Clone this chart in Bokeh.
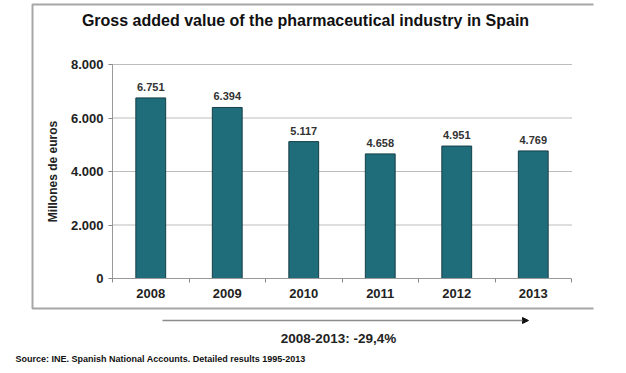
from bokeh.plotting import figure
from bokeh.models import (ColumnDataSource, FixedTicker, Arrow, NormalHead, Range1d)
from bokeh.core.properties import value
from bokeh.embed import file_html
from bokeh.resources import INLINE

# ---- data ----
years = ["2008", "2009", "2010", "2011", "2012", "2013"]
values = [6751, 6394, 5117, 4658, 4951, 4769]
y_ticks = [0, 2000, 4000, 6000, 8000]
y_tick_labels = ["0", "2.000", "4.000", "6.000", "8.000"]
title_text = "Gross added value of the pharmaceutical industry in Spain"
change_text = "2008-2013: -29,4%"
source_text = "Source: INE. Spanish National Accounts. Detailed results 1995-2013"

FONT = "Liberation Sans"
BAR = "#1f6d7a"
BAR_LINE = "#153f46"
GRAY = "#a6a6a6"

W, H = 626, 373
PL, PR, PT, PB = 112, 571, 64, 278          # plot-area pixel box
YMAX = 8000
N = len(years)
def X(px):  # pixel -> data x
    return (px - PL) * N / (PR - PL)
def Y(py):  # pixel -> data y
    return (PB - py) * YMAX / (PB - PT)

centers = [i + 0.5 for i in range(N)]
labels = [f"{v:,}".replace(",", ".") for v in values]
src = ColumnDataSource(dict(x=centers, top=values, lab=labels))

p = figure(width=W, height=H, output_backend="svg", toolbar_location=None,
           x_range=Range1d(X(0), X(W)), y_range=Range1d(Y(H), Y(0)),
           min_border=0)
p.outline_line_color = None
p.background_fill_color = "white"
p.border_fill_color = "white"
p.xgrid.visible = False
p.ygrid.visible = False

# grid lines (dotted) at y ticks
p.segment(x0=0, x1=N, y0=y_ticks[1:], y1=y_ticks[1:], line_color="#7a7a7a",
          line_dash="1 1", line_width=1)

p.vbar(x="x", top="top", width=0.39, bottom=0, source=src,
       fill_color=BAR, line_color=BAR_LINE, line_width=1)

p.text(x="x", y="top", text="lab", source=src, y_offset=-7,
       text_align="center", text_baseline="bottom",
       text_font=value(FONT), text_font_size="11px",
       text_font_style="bold", text_color="#333333")

# x axis
xa = p.xaxis[0]
xa.fixed_location = 0
xa.bounds = (0, N)
xa.ticker = FixedTicker(ticks=centers, minor_ticks=list(range(N + 1)))
xa.major_label_overrides = {c: y for c, y in zip(centers, years)}
xa.major_tick_in = 0
xa.major_tick_out = 0
xa.minor_tick_in = 0
xa.minor_tick_out = 4
xa.minor_tick_line_color = "#888888"
xa.axis_line_color = "#999999"
xa.major_label_text_font = FONT
xa.major_label_text_font_size = "13px"
xa.major_label_text_font_style = "bold"
xa.major_label_text_color = "#222222"
xa.major_label_standoff = 6

# y axis
ya = p.yaxis[0]
ya.fixed_location = 0
ya.bounds = (0, YMAX)
ya.ticker = FixedTicker(ticks=y_ticks, minor_ticks=[])
ya.major_label_overrides = {t: s for t, s in zip(y_ticks, y_tick_labels)}
ya.major_tick_in = 0
ya.major_tick_out = 4
ya.major_tick_line_color = "#888888"
ya.axis_line_color = "#999999"
ya.major_label_text_font = FONT
ya.major_label_text_font_size = "13px"
ya.major_label_text_font_style = "bold"
ya.major_label_text_color = "#222222"
ya.major_label_standoff = 5
ya.axis_label = "Millones de euros"
ya.axis_label_text_font = FONT
ya.axis_label_text_font_size = "12px"
ya.axis_label_text_font_style = "bold"
ya.axis_label_text_color = "#222222"
ya.axis_label_standoff = 8

def txt(px, py, text, size, align="center", color="#222222", font=FONT):
    p.text(x=[X(px)], y=[Y(py)], text=[text], text_align=align,
           text_baseline="middle", text_font=value(font), text_font_size=size,
           text_font_style="bold", text_color=color)

# title
txt(305, 20, title_text, "16px", color="#111111")

# frame lines (left, top, bottom)
p.line(x=[X(593), X(32), X(32), X(593)], y=[Y(4), Y(4), Y(308), Y(308)],
       line_color=GRAY, line_width=2)

# change arrow
p.add_layout(Arrow(x_start=X(162), y_start=Y(320), x_end=X(528), y_end=Y(320),
                   line_color="#8c8c8c", line_width=1.3,
                   end=NormalHead(size=6, fill_color="#111111", line_color="#111111")))
txt(338, 338, change_text, "13.5px")

# source
txt(15, 358, source_text, "9px", align="left", color="#111111")

open("out.html", "w").write(file_html(p, INLINE))
